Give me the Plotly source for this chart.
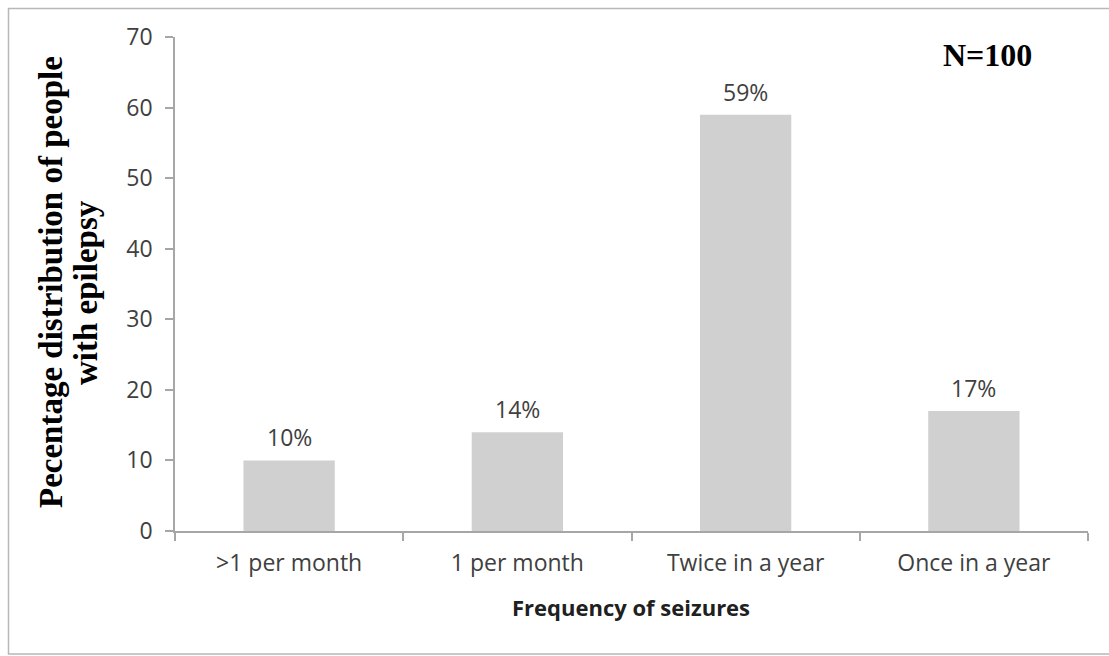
import plotly.graph_objects as go

categories = [">1 per month", "1 per month", "Twice in a year", "Once in a year"]
values = [10, 14, 59, 17]
labels = ["10%", "14%", "59%", "17%"]
y_ticks = [0, 10, 20, 30, 40, 50, 60, 70]

W, H = 1109, 656
L, R, T, B = 175, 21, 37, 125
pw, ph = W - L - R, H - T - B

def px_x(p):
    return (p - L) / pw

def px_y(p):
    return (H - B - p) / ph

fig = go.Figure()
fig.add_trace(go.Bar(
    x=categories, y=values, width=0.4,
    marker=dict(color="#cfd0cf", line=dict(width=0)),
    showlegend=False, hoverinfo="skip",
))

for c, v, t in zip(categories, values, labels):
    fig.add_annotation(x=c, y=v, text=t, showarrow=False, yanchor="bottom", yshift=5,
                       font=dict(family="Open Sans", size=23, color="#404040"))

fig.add_annotation(xref="paper", yref="paper", x=px_x(987), y=px_y(55), text="<b>N=100</b>",
                   showarrow=False, xanchor="center", yanchor="middle",
                   font=dict(family="Liberation Serif", size=32, color="#000000"))

fig.add_annotation(xref="paper", yref="paper", x=px_x(51), y=px_y(282),
                   text="<b>Pecentage distribution of people</b>", textangle=-90,
                   showarrow=False, xanchor="center", yanchor="middle",
                   font=dict(family="Liberation Serif", size=33, color="#000000"))
fig.add_annotation(xref="paper", yref="paper", x=px_x(86), y=px_y(293),
                   text="<b>with epilepsy</b>", textangle=-90,
                   showarrow=False, xanchor="center", yanchor="middle",
                   font=dict(family="Liberation Serif", size=33, color="#000000"))

fig.add_annotation(xref="paper", yref="paper", x=px_x(631), y=px_y(607),
                   text="<b>Frequency of seizures</b>", showarrow=False,
                   xanchor="center", yanchor="middle",
                   font=dict(family="Open Sans", size=22, color="#202020"))

fig.add_shape(type="rect", xref="paper", yref="paper",
              x0=px_x(8.5), x1=px_x(1130), y0=px_y(8.5), y1=px_y(654),
              line=dict(color="#b8b8b8", width=1.5), fillcolor="rgba(0,0,0,0)", layer="below")

fig.update_layout(
    width=W, height=H,
    margin=dict(l=L, r=R, t=T, b=B),
    paper_bgcolor="white", plot_bgcolor="white",
    bargap=0.6,
    font=dict(family="Open Sans", size=23, color="#404040"),
)
fig.update_xaxes(
    showline=True, linecolor="#a6a6a6", linewidth=1.5,
    ticks="outside", ticklen=8, tickcolor="#a6a6a6", tickwidth=1.5,
    tickson="boundaries", showgrid=False, zeroline=False,
    tickfont=dict(family="Open Sans", size=23, color="#404040"),
    ticklabelstandoff=11,
)
fig.update_yaxes(
    range=[0, 70], tickvals=y_ticks, ticktext=[str(v) for v in y_ticks],
    showline=True, linecolor="#a6a6a6", linewidth=1.5,
    ticks="outside", ticklen=8, tickcolor="#a6a6a6", tickwidth=1.5,
    showgrid=False, zeroline=False,
    tickfont=dict(family="Open Sans", size=23, color="#404040"),
    ticklabelstandoff=8,
)

fig.write_html("out.html")
